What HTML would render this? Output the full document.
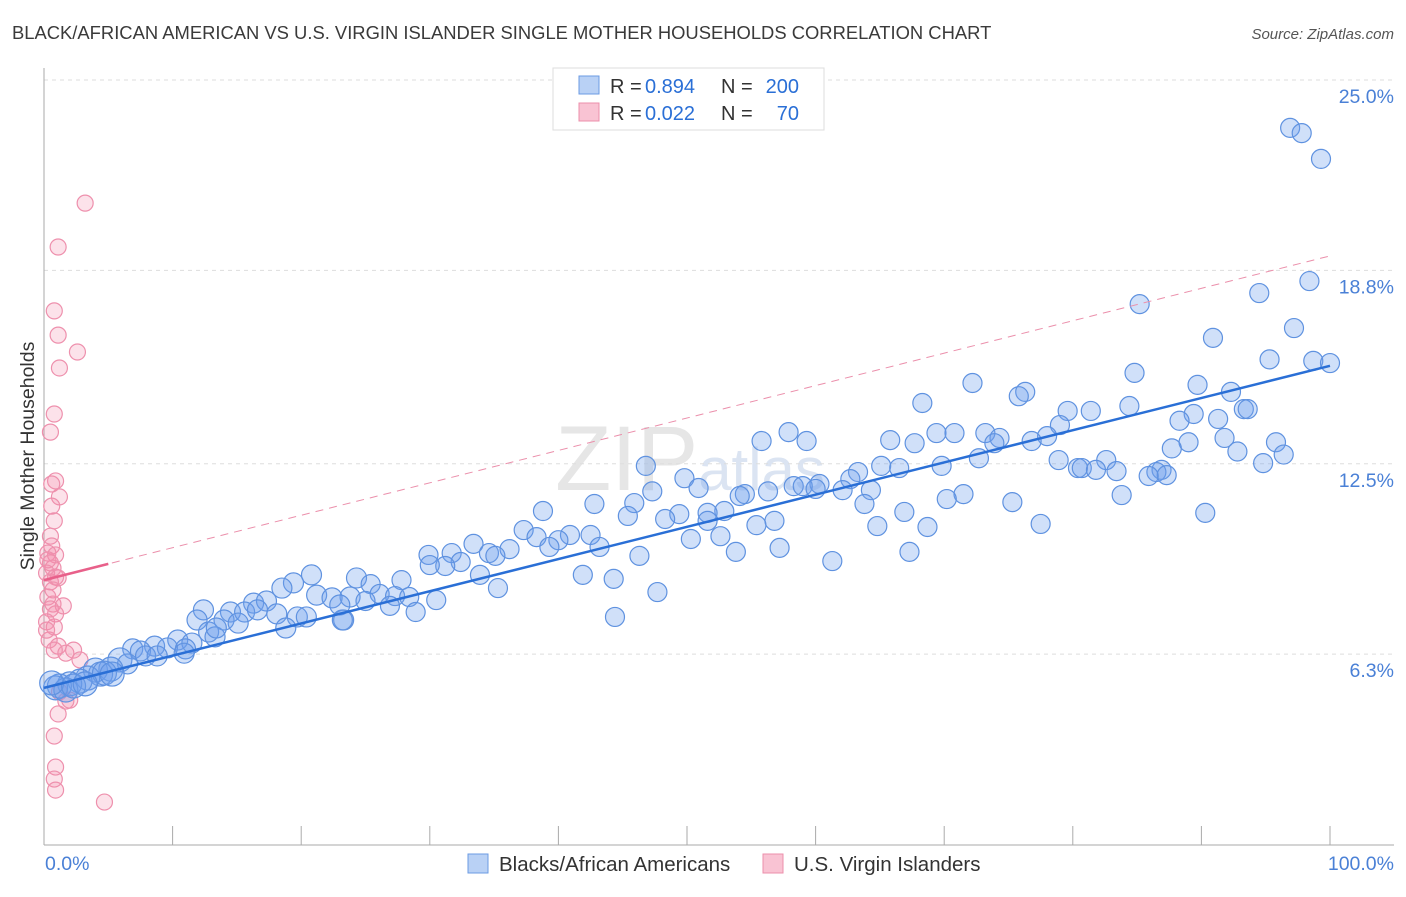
<!DOCTYPE html>
<html><head><meta charset="utf-8"><style>
body{margin:0;background:#fff;font-family:"Liberation Sans",sans-serif;}
svg text{font-family:"Liberation Sans",sans-serif;}
</style></head><body>
<svg id="chart" width="1406" height="892" xmlns="http://www.w3.org/2000/svg">
<text x="12" y="39" font-size="18.4" fill="#3a3a3a">BLACK/AFRICAN AMERICAN VS U.S. VIRGIN ISLANDER SINGLE MOTHER HOUSEHOLDS CORRELATION CHART</text>
<text x="1394" y="39" font-size="15" fill="#555" text-anchor="end" font-style="italic">Source: ZipAtlas.com</text>
<text x="690" y="490" font-size="92" fill="#e6e6e6" text-anchor="middle" font-family="Liberation Serif">ZIP<tspan font-size="60" font-family="Liberation Sans" fill="#dbe4f2">atlas</tspan></text>
<g id="grid"></g>
<g id="axes"></g>
<g id="pink"></g>
<g id="blue"></g>
<g id="lines"></g>
<text transform="translate(34,456) rotate(-90)" font-size="19.5" fill="#333" text-anchor="middle">Single Mother Households</text>
<g>
<rect x="553" y="68" width="271" height="62" fill="#fff" stroke="#ddd"/>
<rect x="579" y="76" width="20" height="18" fill="#b9d1f5" stroke="#6b9be3"/>
<rect x="579" y="103" width="20" height="18" fill="#f9c3d3" stroke="#ec8fab"/>
<text x="610" y="93" font-size="20" fill="#333">R =</text>
<text x="645" y="93" font-size="20" fill="#2a6fd6">0.894</text>
<text x="721" y="93" font-size="20" fill="#333">N =</text>
<text x="799" y="93" font-size="20" fill="#2a6fd6" text-anchor="end">200</text>
<text x="610" y="120" font-size="20" fill="#333">R =</text>
<text x="645" y="120" font-size="20" fill="#2a6fd6">0.022</text>
<text x="721" y="120" font-size="20" fill="#333">N =</text>
<text x="799" y="120" font-size="20" fill="#2a6fd6" text-anchor="end">70</text>
</g>
<g>
<rect x="468" y="854" width="20" height="19" fill="#b9d1f5" stroke="#6b9be3"/>
<text x="499" y="871" font-size="20.5" fill="#333">Blacks/African Americans</text>
<rect x="763" y="854" width="20" height="19" fill="#f9c3d3" stroke="#ec8fab"/>
<text x="794" y="871" font-size="20.5" fill="#333">U.S. Virgin Islanders</text>
</g>
</svg>
<script>
const yTicks=[25.0,18.8,12.5,6.3];
const yTickLabels=["25.0%","18.8%","12.5%","6.3%"];
const xTickLabels=["0.0%","100.0%"];
const blueX=[96.9,97.8,99.3,98.4,94.5,85.2,97.2,90.9,95.3,98.7,100,84.8,72.2,89.7,76.3,75.8,92.3,68.3,84.4,93.3,93.6,79.6,81.4,89.4,91.3,88.3,79.0,57.9,78.0,69.4,70.8,73.2,74.3,55.8,59.3,65.8,67.7,73.9,76.8,91.8,89.0,95.8,87.7,92.8,96.4,72.7,78.9,82.6,94.8,46.8,65.1,66.5,69.8,80.4,80.7,81.8,83.4,86.9,86.5,87.3,85.9,63.3,62.7,49.8,60.3,58.3,59.0,62.1,60.0,64.3,50.9,47.3,54.5,56.3,54.1,71.5,70.2,83.8,75.3,63.8,45.9,42.8,38.8,52.9,49.4,51.6,66.9,90.3,45.4,51.6,56.8,48.3,55.4,37.3,77.5,68.7,64.8,38.3,40.9,42.5,52.6,40.0,50.3,39.3,43.2,57.2,53.8,67.3,33.4,36.2,34.6,29.9,31.7,46.3,35.1,32.4,31.2,30.0,61.3,20.8,33.9,41.9,24.3,27.8,44.3,19.4,25.4,18.5,35.3,47.7,21.2,23.8,26.1,27.3,22.4,25.0,28.4,30.5,16.3,17.3,14.5,23.0,26.9,12.4,15.6,16.6,18.1,19.7,28.9,14.0,15.1,20.4,23.3,11.9,44.4,18.8,12.8,13.3,10.4,11.5,13.4,8.6,6.9,7.5,9.6,11.0,7.9,8.8,10.9,5.9,6.5,4.0,5.2,4.4,3.4,4.7,2.8,2.0,1.2,0.9,1.7,0.6,2.3,3.2,5.3,23.2];
const blueY=[23.44,23.27,22.43,18.45,18.06,17.7,16.92,16.6,15.9,15.85,15.78,15.46,15.13,15.07,14.84,14.7,14.84,14.48,14.38,14.28,14.28,14.22,14.22,14.12,13.96,13.9,13.76,13.53,13.4,13.5,13.5,13.5,13.34,13.24,13.24,13.27,13.17,13.17,13.24,13.34,13.2,13.2,13.0,12.9,12.8,12.68,12.62,12.62,12.52,12.43,12.43,12.36,12.43,12.36,12.36,12.3,12.26,12.3,12.23,12.13,12.1,12.23,12.0,12.03,11.84,11.77,11.77,11.64,11.68,11.64,11.71,11.6,11.51,11.6,11.45,11.51,11.35,11.48,11.25,11.19,11.22,11.19,10.96,10.96,10.86,10.9,10.93,10.9,10.8,10.64,10.64,10.7,10.5,10.34,10.54,10.44,10.47,10.11,10.18,10.18,10.14,10.01,10.05,9.79,9.79,9.76,9.63,9.63,9.89,9.72,9.59,9.53,9.59,9.5,9.5,9.3,9.17,9.2,9.33,8.88,8.88,8.88,8.78,8.71,8.75,8.62,8.58,8.45,8.45,8.32,8.22,8.16,8.26,8.19,8.13,8.03,8.16,8.06,7.96,8.03,7.67,7.9,7.87,7.74,7.67,7.74,7.61,7.51,7.67,7.41,7.31,7.51,7.41,7.41,7.51,7.15,7.02,6.86,6.76,6.66,7.15,6.56,6.47,6.4,6.5,6.47,6.24,6.24,6.33,6.11,5.98,5.78,5.81,5.65,5.52,5.68,5.42,5.33,5.26,5.2,5.13,5.36,5.26,5.33,5.65,7.41];
const pinkX=[3.2,1.1,0.8,1.1,2.6,1.2,0.8,0.5,0.9,0.6,1.2,0.6,0.8,0.5,0.6,0.3,0.9,0.5,0.7,0.2,0.9,0.5,1.1,0.3,0.7,1.5,0.5,0.9,0.2,0.8,0.4,1.1,2.3,1.7,2.8,0.8,1.2,1.7,1.1,0.8,0.9,0.8,0.9,4.7,2.0,0.3,0.7,0.2];
const pinkY=[20.99,19.56,17.48,16.69,16.14,15.62,14.12,13.53,11.94,11.84,11.42,11.12,10.64,10.14,9.82,9.59,9.53,9.27,9.1,8.94,8.81,8.65,8.78,8.16,7.93,7.87,7.77,7.61,7.35,7.18,6.76,6.56,6.43,6.33,6.11,6.43,5.07,4.77,4.35,3.63,2.62,2.23,1.87,1.48,4.8,9.37,8.39,7.08];
const blueTrend=[5.2,15.69];
const pinkTrend=[8.71,19.27];
const NS="http://www.w3.org/2000/svg";
const xs=v=>44+v*12.86;
const ys=v=>80+(25-v)*30.7;
function mk(tag,attrs,parent){const e=document.createElementNS(NS,tag);for(const k in attrs)e.setAttribute(k,attrs[k]);parent.appendChild(e);return e;}
const grid=document.getElementById('grid');
yTicks.forEach((t,i)=>{
  const l=mk('line',{x1:44,x2:1394,y1:ys(t),y2:ys(t),stroke:'#ddd','stroke-dasharray':'4,4'},grid);
  
  
  const tx=mk('text',{x:1394,y:ys(t)+23,'font-size':19.5,fill:'#4a80d6','text-anchor':'end'},grid);
  tx.textContent=yTickLabels[i];
  
  
});
const axes=document.getElementById('axes');
mk('line',{x1:44,x2:44,y1:68,y2:845,stroke:'#aaa'},axes);
mk('line',{x1:44,x2:1394,y1:845,y2:845,stroke:'#aaa'},axes);
for(let i=0;i<=10;i++){const t=mk('line',{x1:xs(i*10),x2:xs(i*10),y1:826,y2:845,stroke:'#aaa'},axes);
  
  }
const x0=mk('text',{x:45,y:870,'font-size':19.5,fill:'#4a80d6'},axes);x0.textContent=xTickLabels[0];


const x1=mk('text',{x:1394,y:870,'font-size':19.5,fill:'#4a80d6','text-anchor':'end'},axes);x1.textContent=xTickLabels[1];


const pg=document.getElementById('pink');
pinkX.forEach((v,i)=>{const c=mk('circle',{cx:xs(v),cy:ys(pinkY[i]),r:8,fill:'rgba(244,140,170,0.25)',stroke:'#ee90ad','stroke-width':1.2},pg);
  
  });
const bg=document.getElementById('blue');
blueX.forEach((v,i)=>{const r=v<6?12:(v<25?10:9.5);const c=mk('circle',{cx:xs(v),cy:ys(blueY[i]),r:r,fill:'rgba(110,160,235,0.32)',stroke:'#5f92e0','stroke-width':1.2},bg);
  
  });
const lg=document.getElementById('lines');
const pd=mk('line',{x1:xs(0),y1:ys(pinkTrend[0]),x2:xs(100),y2:ys(pinkTrend[1]),stroke:'#eb8fab','stroke-width':1,'stroke-dasharray':'8,6'},lg);


const pinkAt=v=>pinkTrend[0]+(pinkTrend[1]-pinkTrend[0])*v/100;
const ps=mk('line',{x1:xs(0),y1:ys(pinkAt(0)),x2:xs(5),y2:ys(pinkAt(5)),stroke:'#e8608a','stroke-width':2.5},lg);


const bl=mk('line',{x1:xs(0),y1:ys(blueTrend[0]),x2:xs(100),y2:ys(blueTrend[1]),stroke:'#2a6fd6','stroke-width':2.5},lg);


</script>
</body></html>
